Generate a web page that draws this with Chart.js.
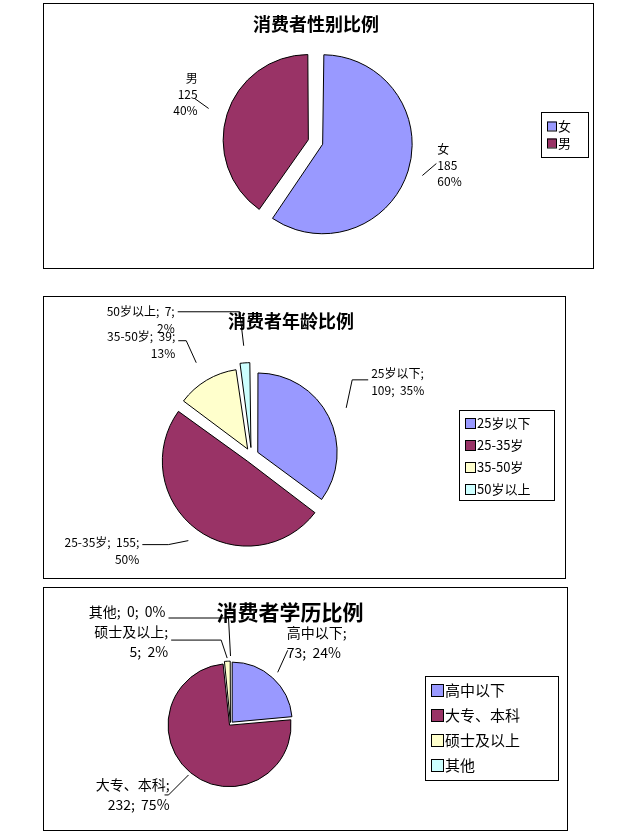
<!DOCTYPE html>
<html><head><meta charset="utf-8">
<script src="https://cdn.jsdelivr.net/npm/chart.js@4"></script>
<style>
body{margin:0;background:#fff;}
.box{position:absolute;border:1px solid #000;box-sizing:border-box;}
</style></head><body>
<div class="box" style="left:43px;top:3px;width:551px;height:266px"><canvas id="c1"></canvas></div>
<div class="box" style="left:43px;top:296px;width:523px;height:283px"><canvas id="c2"></canvas></div>
<div class="box" style="left:43px;top:587px;width:525px;height:244px"><canvas id="c3"></canvas></div>
<script>
const colors = ['#9999FF', '#993366', '#FFFFCC', '#CCFFFF']

const genderTitle = '消费者性别比例'
const genderCats = ['女', '男']
const genderVals = [185, 125]
const genderPct = ['60%', '40%']

const ageTitle = '消费者年龄比例'
const ageCats = ['25岁以下', '25-35岁', '35-50岁', '50岁以上']
const ageVals = [109, 155, 39, 7]
const agePct = ['35%', '50%', '13%', '2%']

const eduTitle = '消费者学历比例'
const eduCats = ['高中以下', '大专、本科', '硕士及以上', '其他']
const eduVals = [73, 232, 5, 0]
const eduPct = ['24%', '75%', '2%', '0%']

const font = '"Noto Sans CJK SC", sans-serif'

function build (id, w, h, cats, vals, labels, cfg) {
  const cv = document.getElementById(id)
  cv.width = w; cv.height = h
  cv.style.width = w + 'px'; cv.style.height = h + 'px'
  const deco = {
    id: 'deco',
    afterDraw (chart) {
      const c = chart.ctx
      c.save()
      // title
      c.fillStyle = '#000'
      c.font = 'bold ' + cfg.titleSize + 'px ' + font
      c.textAlign = 'center'; c.textBaseline = 'middle'
      c.fillText(cfg.title, cfg.titleX, cfg.titleY)
      // slice labels
      c.font = cfg.labSize + 'px ' + font
      chart.getDatasetMeta(0).data.forEach((arc, i) => {
        const p = arc.getProps(['x', 'y', 'startAngle', 'endAngle', 'outerRadius'], true)
        const mid = (p.startAngle + p.endAngle) / 2
        const off = chart.data.datasets[0].offset[i]
        const cx = p.x + Math.cos(mid) * off, cy = p.y + Math.sin(mid) * off
        const ax = cx + Math.cos(mid) * p.outerRadius, ay = cy + Math.sin(mid) * p.outerRadius
        const L = cfg.lab[i]
        const lx = ax + L[0], ly = ay + L[1]
        c.strokeStyle = '#000'; c.lineWidth = 1
        c.beginPath(); c.moveTo(ax, ay); c.lineTo(lx, ly); c.lineTo(lx + L[2], ly); c.stroke()
        c.textAlign = L[3]; c.textBaseline = 'middle'
        const lines = labels[i]
        const tx = lx + L[2] + (L[3] === 'left' ? 3 : L[3] === 'right' ? -3 : 0)
        lines.forEach((t, k) => c.fillText(t, tx + (L[4] || 0), ly + L[5] + k * cfg.lineH))
      })
      // legend
      const g = cfg.legend
      c.strokeStyle = '#000'; c.strokeRect(g.x + 0.5, g.y + 0.5, g.w, g.h)
      c.font = g.size + 'px ' + font
      c.textAlign = 'left'
      cats.forEach((t, i) => {
        const yy = g.y + g.pad + i * g.step
        c.fillStyle = colors[i]
        c.fillRect(g.x + 6, yy - g.box / 2, g.box, g.box)
        c.strokeRect(g.x + 6.5, yy - g.box / 2 + 0.5, g.box, g.box)
        c.fillStyle = '#000'
        c.fillText(t, g.x + 8 + g.box, yy)
      })
      c.restore()
    }
  }
  new Chart(cv, {
    type: 'pie',
    data: { labels: cats, datasets: [{ data: vals, backgroundColor: colors.slice(0, vals.length),
      borderColor: '#000', borderWidth: 1, offset: cfg.offset }] },
    options: {
      responsive: false, animation: false, radius: cfg.radius,
      layout: { padding: cfg.padding },
      plugins: { legend: { display: false }, tooltip: { enabled: false } }
    },
    plugins: [deco]
  })
}

build('c1', 549, 264, genderCats, genderVals,
  genderCats.map((c, i) => [c, String(genderVals[i]), genderPct[i]]), {
  title: genderTitle, titleSize: 18, titleX: 272, titleY: 20,
  radius: 82, offset: [30, 30], padding: { left: 0, right: 6, top: 26, bottom: 14 },
  labSize: 12, lineH: 16,
  lab: [[14, -12, 0, 'left', -2, -14], [-14, -10, 0, 'right', 6, -20]],
  legend: { x: 497, y: 108, w: 47, h: 45, size: 13, box: 9, step: 17, pad: 14 }
})

build('c2', 521, 281, ageCats, ageVals,
  [['25岁以下;', '109;  35%'], ['25-35岁;  155;', '50%'], ['35-50岁;  39;', '13%'], ['50岁以上;  7;', '2%']], {
  title: ageTitle, titleSize: 18, titleX: 247, titleY: 24,
  radius: 78, offset: [28, 28, 30, 32], padding: { left: 0, right: 106, top: 36, bottom: 0 },
  labSize: 12, lineH: 17,
  lab: [[6, -28, 16, 'left', 0, -6], [-20, 4, -26, 'right', 0, -2],
        [-10, -22, -8, 'right', 0, -4], [-4, -34, -62, 'right', 0, 0]],
  legend: { x: 415, y: 113, w: 95, h: 90, size: 13, box: 10, step: 22, pad: 13 }
})
</script>
<script>
build('c3', 523, 242, eduCats, eduVals,
  eduCats.map((c, i) => i === 3 ? [c + ';  ' + eduVals[i] + ';  ' + eduPct[i]] : [c + ';', eduVals[i] + ';  ' + eduPct[i]]), {
  title: eduTitle, titleSize: 21, titleX: 246, titleY: 24,
  radius: 60, offset: [10, 6, 6, 8], padding: { left: 0, right: 150, top: 30, bottom: 0 },
  labSize: 14, lineH: 20,
  lab: [[10, -22, 0, 'left', -4, -18], [-20, 20, -4, 'right', 8, -10],
        [-6, -18, -50, 'right', 0, -8], [-2, -38, -60, 'right', 0, -6]],
  legend: { x: 381, y: 88, w: 133, h: 104, size: 15, box: 12, step: 25, pad: 14 }
})
</script>
</body></html>
